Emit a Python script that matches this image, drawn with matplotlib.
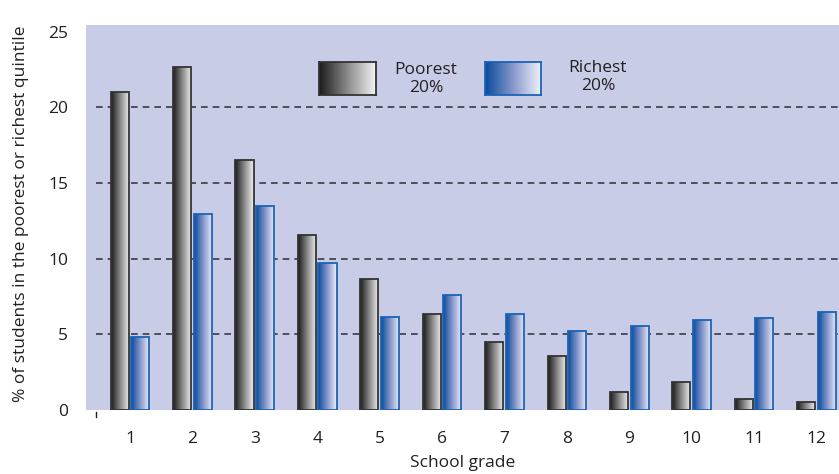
import numpy as np
import matplotlib.pyplot as plt
from matplotlib.colors import LinearSegmentedColormap

plt.rcParams['font.family'] = ['Open Sans', 'DejaVu Sans']

grades = np.arange(1, 13)
grade_labels = [str(g) for g in grades]
poorest = [21.0, 22.7, 16.5, 11.6, 8.65, 6.35, 4.5, 3.6, 1.2, 1.85, 0.7, 0.5]
richest = [4.8, 12.95, 13.5, 9.7, 6.15, 7.6, 6.35, 5.25, 5.55, 5.95, 6.05, 6.5]
yticks = [0, 5, 10, 15, 20, 25]

grey_cmap = LinearSegmentedColormap.from_list('grey', ['#1c1c1c', '#8a8a8a', '#f2f2f2'])
blue_cmap = LinearSegmentedColormap.from_list('blue', ['#0a4c9c', '#8797cc', '#eef0f9'])
grad = np.linspace(0, 1, 64).reshape(1, -1)
fs = 12.5
txt = '#231f20'

fig = plt.figure(figsize=(8.39, 4.74), dpi=100)
ax = fig.add_axes([86 / 839, 1 - 410 / 474, 1 - 86 / 839, 385 / 474])
ax.set_facecolor('#c8cce6')

w = 0.29
off = 0.165


def gradient_bars(bars, cmap):
    for b in bars:
        x0, y0 = b.get_x(), b.get_y()
        im = ax.imshow(grad, cmap=cmap, aspect='auto', zorder=2,
                       extent=[x0, x0 + b.get_width(), y0, y0 + b.get_height()])
        im.set_clip_path(b)


# grid lines
ax.hlines(yticks[1:-1], 0.456, 12.36, colors='#3a3a44', linestyles=(0, (4, 3)),
          linewidth=1.2, zorder=1)

pb = ax.bar(grades - off, poorest, width=w, facecolor='none', edgecolor='#333333',
            linewidth=1.3, zorder=3)
rb = ax.bar(grades + off, richest, width=w, facecolor='none', edgecolor='#1a63b6',
            linewidth=1.3, zorder=3)
gradient_bars(pb, grey_cmap)
gradient_bars(rb, blue_cmap)
ax.set_xlim(0.296, 12.36)
ax.set_ylim(0, 25.45)

for s in ax.spines.values():
    s.set_visible(False)
ax.set_yticks(yticks)
ax.set_yticklabels([str(t) for t in yticks], fontsize=fs, color=txt)
ax.set_xticks(grades)
ax.set_xticklabels(grade_labels, fontsize=fs, color=txt)
ax.tick_params(axis='y', length=0, pad=13)
ax.tick_params(axis='x', length=0, pad=15)
ax.plot([0.456, 0.456], [-0.1, -0.45], color=txt, lw=1, clip_on=False)

ax.set_xlabel('School grade', fontsize=fs, color=txt, labelpad=6)
ax.set_ylabel('% of students in the poorest or richest quintile', fontsize=fs,
              color=txt)
ax.yaxis.set_label_coords(-0.076, 0.51)


# legend
def legend_box(x0, x1, cmap, ec):
    fx0, fx1 = x0 / 839, x1 / 839
    fy0, fy1 = 1 - 95 / 474, 1 - 62 / 474
    lax = fig.add_axes([fx0, fy0, fx1 - fx0, fy1 - fy0])
    lax.imshow(grad, cmap=cmap, aspect='auto', extent=[0, 1, 0, 1])
    lax.set_xticks([])
    lax.set_yticks([])
    for s in lax.spines.values():
        s.set_color(ec)
        s.set_linewidth(1.3)


legend_box(319, 376, grey_cmap, '#333333')
legend_box(485, 541, blue_cmap, '#1a63b6')
fig.text(426 / 839, 1 - 79 / 474, 'Poorest\n20%', ha='center', va='center',
         fontsize=fs, color=txt, linespacing=1.15)
fig.text(598 / 839, 1 - 77 / 474, 'Richest\n20%', ha='center', va='center',
         fontsize=fs, color=txt, linespacing=1.15)

fig.savefig('out.png', dpi=100)
